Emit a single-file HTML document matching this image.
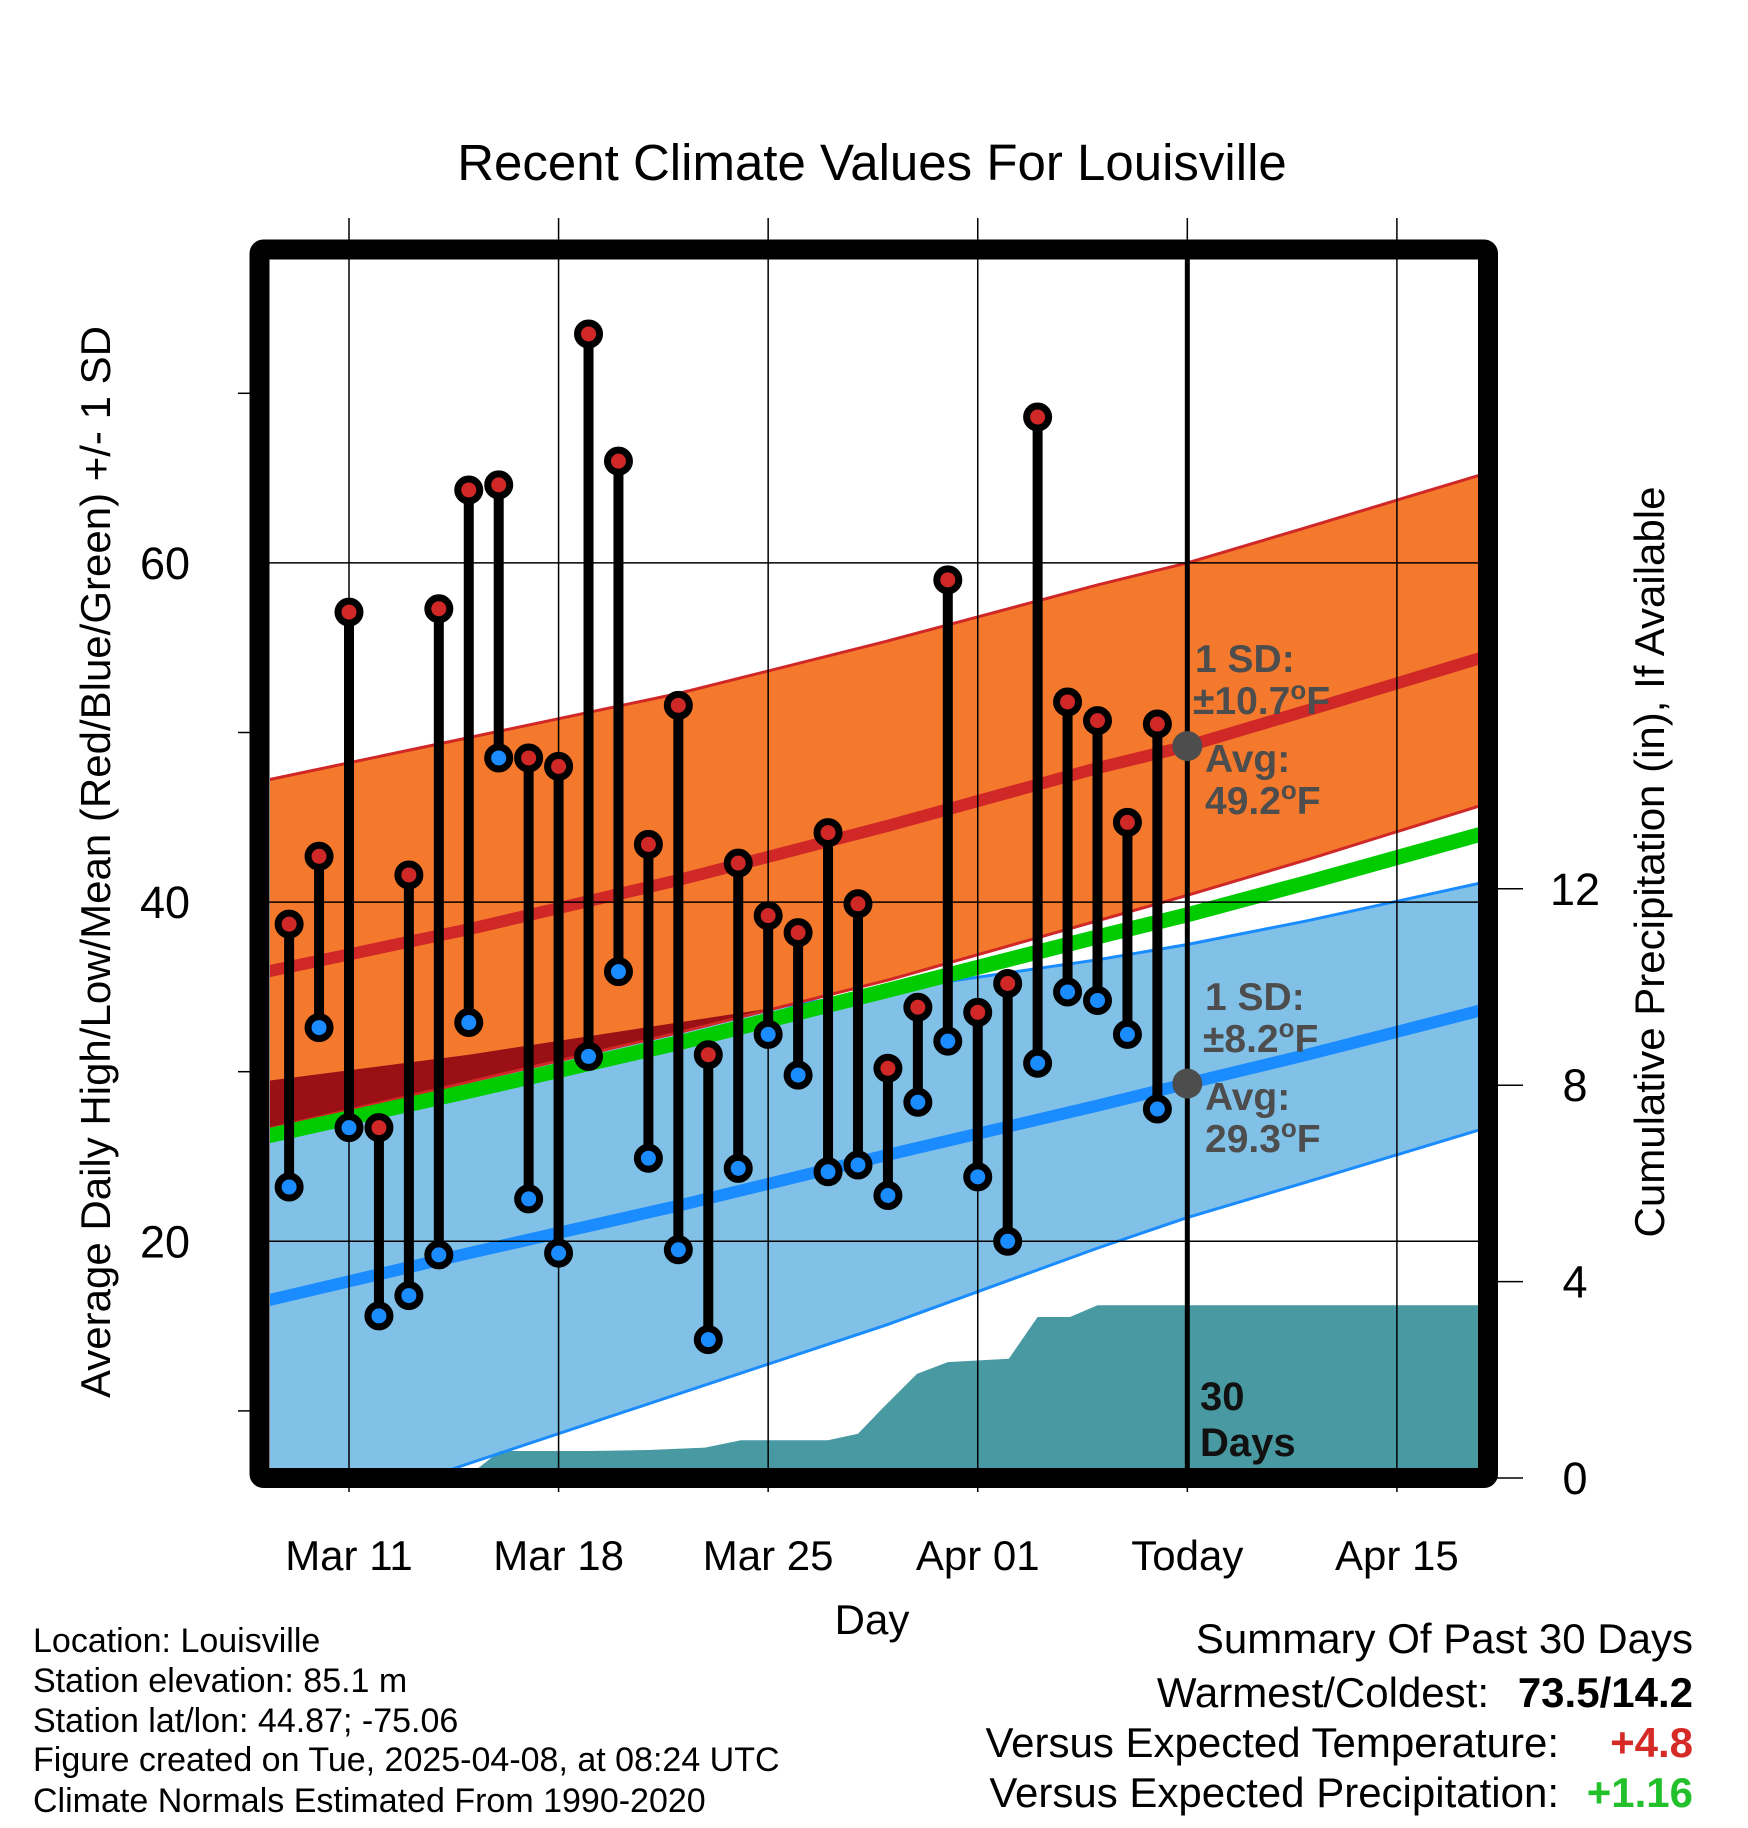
<!DOCTYPE html>
<html><head><meta charset="utf-8"><style>
html,body{margin:0;padding:0;background:#fff;}
svg{display:block;font-family:"Liberation Sans",Arial,sans-serif;}
</style></head><body>
<svg id="chart" width="1748" height="1828" viewBox="0 0 1748 1828" xmlns="http://www.w3.org/2000/svg">
<defs>
<clipPath id="plotclip"><rect x="270" y="260" width="1208" height="1208"/></clipPath>
<clipPath id="blueclip"><path id="blueclippath" d=""/></clipPath>
</defs>
<text x="872" y="180" font-size="51" text-anchor="middle">Recent Climate Values For Louisville</text>
<g id="plot" clip-path="url(#plotclip)"></g>
<g id="over"></g>
<text x="872" y="1634" font-size="42" text-anchor="middle">Day</text>
<text transform="translate(110,862) rotate(-90)" font-size="42" text-anchor="middle">Average Daily High/Low/Mean (Red/Blue/Green) +/- 1 SD</text>
<text transform="translate(1664,862) rotate(-90)" font-size="42" text-anchor="middle">Cumulative Precipitation (in), If Available</text>
<g font-size="34">
<text x="33" y="1652">Location: Louisville</text>
<text x="33" y="1692">Station elevation: 85.1 m</text>
<text x="33" y="1732">Station lat/lon: 44.87; -75.06</text>
<text x="33" y="1771">Figure created on Tue, 2025-04-08, at 08:24 UTC</text>
<text x="33" y="1812">Climate Normals Estimated From 1990-2020</text>
</g>
<g font-size="42" text-anchor="end">
<text x="1693" y="1653">Summary Of Past 30 Days</text>
<text x="1489" y="1707">Warmest/Coldest:</text>
<text x="1693" y="1707" font-weight="bold">73.5/14.2</text>
<text x="1559" y="1757">Versus Expected Temperature:</text>
<text x="1693" y="1757" font-weight="bold" fill="#d62a26">+4.8</text>
<text x="1559" y="1807">Versus Expected Precipitation:</text>
<text x="1693" y="1807" font-weight="bold" fill="#22c02a">+1.16</text>
</g>
</svg>
<script>
// ---- data ----
const dayLabels = ["Mar 11","Mar 18","Mar 25","Apr 01","Today","Apr 15"];
const labelDays = [0,7,14,21,28,35];
const obsDays = [-2,-1,0,1,2,3,4,5,6,7,8,9,10,11,12,13,14,15,16,17,18,19,20,21,22,23,24,25,26,27];
const highs = [38.7,42.7,57.1,26.7,41.6,57.3,64.3,64.6,48.5,48.0,73.5,66.0,43.4,51.6,31.0,42.3,39.2,38.2,44.1,39.9,30.2,33.8,59.0,33.5,35.2,68.6,51.8,50.7,44.7,50.5];
const lows  = [23.2,32.6,26.7,15.6,16.8,19.2,32.9,48.5,22.5,19.3,30.9,35.9,24.9,19.5,14.2,24.3,32.2,29.8,24.1,24.5,22.7,28.2,31.8,23.8,20.0,30.5,34.7,34.2,32.2,27.8];
const normDays = [-3,4,11,18,25,28,32,38];
const normHigh = [35.8,38.4,41.3,44.5,47.9,49.2,51.3,54.5];
const normHighUp = [47.1,49.7,52.3,55.4,58.7,60.0,62.1,65.3];
const normHighLo = [26.5,29.4,32.3,35.4,38.9,40.4,42.5,45.8];
const normLow = [16.4,19.3,22.1,25.1,28.0,29.3,31.0,33.7];
const normLowUp = [29.4,31.0,32.9,34.8,36.6,37.5,38.9,41.2];
const normLowLo = [2.7,6.9,11.0,15.1,19.6,21.4,23.5,26.7];
const precipDays = [3.9,5.04,8.0,10.0,11.89,13.09,16.0,17.0,17.87,18.97,20.0,22.04,23.0,24.08,25.0,38];
const precipVals = [0,0.55,0.55,0.57,0.62,0.77,0.77,0.9,1.45,2.12,2.36,2.43,3.28,3.28,3.52,3.52];
const tempTicks = [20,40,60];
const tempMinor = [10,30,50,70];
const precipTicks = [0,4,8,12];

// ---- axes ----
const X = d => 349 + d*29.94;
const Y = t => 562.9 + (60-t)*16.96;
const P = p => 1478 - p*49.1;
const NS = "http://www.w3.org/2000/svg";
function mk(tag, attrs, parent){const e=document.createElementNS(NS,tag);for(const k in attrs)e.setAttribute(k,attrs[k]);parent.appendChild(e);return e;}
const plot=document.getElementById('plot'), over=document.getElementById('over'), svg=document.getElementById('chart');
function line(ds,vs){return ds.map((d,i)=>(i?'L':'M')+X(d).toFixed(1)+' '+Y(vs[i]).toFixed(1)).join(' ');}
function band(ds,up,lo){let s=line(ds,up);for(let i=ds.length-1;i>=0;i--)s+=' L'+X(ds[i]).toFixed(1)+' '+Y(lo[i]).toFixed(1);return s+' Z';}

let e;
e=mk('path',{d:band(normDays,normLowUp,normLowLo),fill:'#82c1e7'},plot);


document.getElementById('blueclippath').setAttribute('d',band(normDays,normLowUp,normLowLo));
let pd='M'+X(precipDays[0])+' '+P(0);
precipDays.forEach((d,i)=>{pd+=' L'+X(d).toFixed(1)+' '+P(precipVals[i]).toFixed(1);});
pd+=' L'+X(precipDays[precipDays.length-1])+' '+P(0)+' Z';
e=mk('path',{d:pd,fill:'#4899a2'},plot);


e=mk('path',{d:line(normDays,normLowLo),fill:'none',stroke:'#1a8cff','stroke-width':3},plot);


e=mk('path',{d:line(normDays,normLowUp),fill:'none',stroke:'#1a8cff','stroke-width':3},plot);


e=mk('path',{d:band(normDays,normHighUp,normHighLo),fill:'#f4792d'},plot);


e=mk('path',{d:band(normDays,normHighUp,normHighLo),fill:'#9b1015','clip-path':'url(#blueclip)'},plot);


e=mk('path',{d:line(normDays,normHighUp),fill:'none',stroke:'#d02727','stroke-width':3},plot);


e=mk('path',{d:line(normDays,normHighLo),fill:'none',stroke:'#d02727','stroke-width':3},plot);


const normMean = normHigh.map((h,i)=>(h+normLow[i])/2);
e=mk('path',{d:line(normDays,normMean),fill:'none',stroke:'#00cc00','stroke-width':15},plot);


e=mk('path',{d:line(normDays,normHigh),fill:'none',stroke:'#d02727','stroke-width':12},plot);


e=mk('path',{d:line(normDays,normLow),fill:'none',stroke:'#1a8cff','stroke-width':12},plot);


tempTicks.forEach(t=>{
  e=mk('line',{x1:250,x2:1498,y1:Y(t),y2:Y(t),stroke:'#000','stroke-width':1.5},over);
  
  
  e=mk('text',{x:165,y:Y(t)+16,'font-size':45,'text-anchor':'middle'},svg);
  e.textContent=t;
  
  
});
tempMinor.forEach(t=>{
  e=mk('line',{x1:238,x2:250,y1:Y(t),y2:Y(t),stroke:'#000','stroke-width':1.5},over);
  
  
});
labelDays.forEach((d,i)=>{
  e=mk('line',{x1:X(d),x2:X(d),y1:218,y2:1492,stroke:'#000','stroke-width':1.5},over);
  
  
  e=mk('text',{x:X(d),y:1570,'font-size':42,'text-anchor':'middle'},svg);
  e.textContent=dayLabels[i];
  
  
});
precipTicks.forEach(p=>{
  e=mk('line',{x1:1488,x2:1523,y1:P(p),y2:P(p),stroke:'#000','stroke-width':1.5},over);
  
  
  e=mk('text',{x:1575,y:P(p)+16,'font-size':45,'text-anchor':'middle'},svg);
  e.textContent=p;
  
  
});
e=mk('line',{x1:X(28),x2:X(28),y1:255,y2:1470,stroke:'#000','stroke-width':5},over);


obsDays.forEach((d,i)=>{
  const x=X(d);
  e=mk('line',{x1:x,x2:x,y1:Y(highs[i]),y2:Y(lows[i]),stroke:'#000','stroke-width':10},over);
  
  
  e=mk('circle',{cx:x,cy:Y(highs[i]),r:11,fill:'#d02727',stroke:'#000','stroke-width':7},over);
  
  
  e=mk('circle',{cx:x,cy:Y(lows[i]),r:11,fill:'#1a8cff',stroke:'#000','stroke-width':7},over);
  
  
});
e=mk('circle',{cx:X(28),cy:Y(49.2),r:15,fill:'#4d4d4d'},over);


e=mk('circle',{cx:X(28),cy:Y(29.3),r:15,fill:'#4d4d4d'},over);


function ann(txt,x,y,name,sup){
  const t=mk('text',{x:x,y:y,'font-size':39,'font-weight':'bold',fill:'#4d4d4d'},over);
  if(sup){t.appendChild(document.createTextNode(txt));const s=mk('tspan',{dy:-15,'font-size':26},t);s.textContent='o';const f=mk('tspan',{dy:15},t);f.textContent='F';}
  else t.textContent=txt;
  
  
}
ann('1 SD:',1195,672,'high-sd-label');
ann('±10.7',1193,714,'high-sd-value',true);
ann('Avg:',1205,772,'high-avg-label');
ann('49.2',1205,814,'high-avg-value',true);
ann('1 SD:',1205,1010,'low-sd-label');
ann('±8.2',1203,1052,'low-sd-value',true);
ann('Avg:',1205,1110,'low-avg-label');
ann('29.3',1205,1152,'low-avg-value',true);
e=mk('text',{x:1200,y:1410,'font-size':40,'font-weight':'bold',fill:'#111'},over);
e.textContent='30';


e=mk('text',{x:1200,y:1456,'font-size':40,'font-weight':'bold',fill:'#111'},over);
e.textContent='Days';


e=mk('rect',{x:259.5,y:249.5,width:1228.5,height:1228.5,fill:'none',stroke:'#000','stroke-width':20,rx:4},over);


</script>
</body></html>
